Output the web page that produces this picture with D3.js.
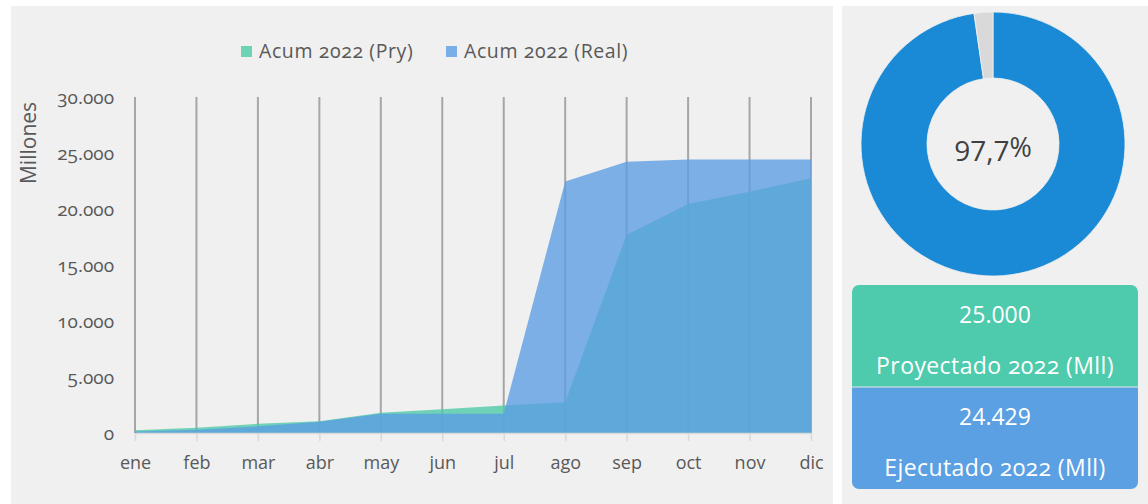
<!DOCTYPE html>
<html lang="es">
<head>
<meta charset="utf-8">
<title>Acum 2022</title>
<script src="https://cdn.jsdelivr.net/npm/d3@7"></script>
<style>
  body { margin: 0; background: #fff; }
  svg { font-family: "Open Sans", Lato, sans-serif; display: block; }
  .onum { font-variant-numeric: oldstyle-nums; }
</style>
</head>
<body>
<svg width="1148" height="504"></svg>
<script>

// data
var months = ["ene", "feb", "mar", "abr", "may", "jun", "jul", "ago", "sep", "oct", "nov", "dic"];
var pry  = [250, 470, 820, 1050, 1800, 2120, 2450, 2750, 17700, 20450, 21550, 22750];
var real = [140, 290, 600, 1000, 1720, 1720, 1720, 22450, 24220, 24420, 24429, 24429];
var yTicks = [0, 5000, 10000, 15000, 20000, 25000, 30000];
var seriesNames = ["Acum 2022 (Pry)", "Acum 2022 (Real)"];

var cumplimiento = 0.977;
var proyectado = 25000;
var ejecutado = 24429;

var svg = d3.select("svg");

var es = d3.formatLocale({ decimal: ",", thousands: ".", grouping: [3], currency: ["$", ""] }),
    fmtInt = es.format(",d"),
    fmtPct = es.format(".1f");

// panels
svg.append("rect").attr("x", 11).attr("y", 6).attr("width", 822).attr("height", 498).attr("fill", "#f0f0f0");
svg.append("rect").attr("x", 842).attr("y", 6).attr("width", 306).attr("height", 498).attr("fill", "#f0f0f0");

// ---- area chart ----
var x = d3.scalePoint().domain(months).range([135, 811]);
var y = d3.scaleLinear().domain([0, 30000]).range([433, 97]);

// vertical gridlines
svg.append("g")
  .selectAll("line")
  .data(months)
  .enter().append("line")
    .attr("x1", function(d) { return x(d); })
    .attr("x2", function(d) { return x(d); })
    .attr("y1", y(30000))
    .attr("y2", y(0))
    .attr("stroke", "#a6a6a6")
    .attr("stroke-width", 2);

var area = function(vals) {
  return d3.area()
    .x(function(d, i) { return x(months[i]); })
    .y0(y(0))
    .y1(function(d) { return y(d); })(vals);
};

svg.append("path").attr("d", area(pry)).attr("fill", "#4fcaa8").attr("fill-opacity", 0.8);
svg.append("path").attr("d", area(real)).attr("fill", "#5b9de3").attr("fill-opacity", 0.79);

// x axis
var xAxis = svg.append("g")
    .attr("transform", "translate(0," + y(0) + ")")
    .call(d3.axisBottom(x).tickSizeInner(8).tickSizeOuter(0).tickPadding(15));
xAxis.select(".domain").attr("stroke", "#d9d9d9").attr("stroke-width", 1.5);
xAxis.selectAll(".tick line").attr("stroke", "#d9d9d9").attr("stroke-width", 1.5);
xAxis.selectAll(".tick text").attr("fill", "#595959").style("font-size", "18px").style("font-family", "Open Sans, sans-serif");

// y axis
var yAxis = svg.append("g")
    .attr("transform", "translate(114,0)")
    .call(d3.axisLeft(y).tickValues(yTicks).tickSize(0).tickPadding(0).tickFormat(fmtInt));
yAxis.select(".domain").remove();
yAxis.selectAll(".tick text").attr("fill", "#595959").attr("class", "onum").style("font-size", "19px").style("font-family", "Open Sans, sans-serif");

svg.append("text")
    .attr("transform", "translate(36,143) rotate(-90)")
    .attr("text-anchor", "middle")
    .attr("fill", "#595959")
    .style("font-size", "21px")
    .text("Millones");

// legend
var legendColors = ["#6dd3b5", "#7aaee6"];
var legendX = [241, 446];
var legend = svg.append("g").selectAll("g")
  .data(seriesNames)
  .enter().append("g")
    .attr("transform", function(d, i) { return "translate(" + legendX[i] + ",46)"; });
legend.append("rect").attr("width", 11).attr("height", 11).attr("fill", function(d, i) { return legendColors[i]; });
legend.append("text")
    .attr("x", 18).attr("y", 12)
    .attr("fill", "#595959")
    .attr("class", "onum")
    .style("font-size", "19.5px")
    .style("letter-spacing", "0.6px")
    .text(function(d) { return d; });

// ---- donut ----
var cx = 993, cy = 144;
var pie = d3.pie().sort(null).value(function(d) { return d; });
var arc = d3.arc().innerRadius(66).outerRadius(132);
var donut = svg.append("g").attr("transform", "translate(" + cx + "," + cy + ")");
donut.selectAll("path")
  .data(pie([cumplimiento, 1 - cumplimiento]))
  .enter().append("path")
    .attr("d", arc)
    .attr("fill", function(d, i) { return i === 0 ? "#1b8ad6" : "#d9d9d9"; })
    .attr("stroke", "#f0f0f0")
    .attr("stroke-width", 0.8);

var pctText = donut.append("text")
    .attr("text-anchor", "middle")
    .attr("y", 17)
    .attr("fill", "#404040")
    .style("font-size", "28px");
pctText.append("tspan").text(fmtPct(cumplimiento * 100));
pctText.append("tspan").attr("dy", -4).style("font-size", "27px").text("%");

// ---- KPI boxes ----
var boxes = [
  { value: proyectado, label: "Proyectado 2022 (Mll)", color: "#4ecbac" },
  { value: ejecutado, label: "Ejecutado 2022 (Mll)", color: "#5ba0e3" }
];
var bx = 852, bw = 286, by = 285, bh = 102, r = 7;

var box = svg.append("g").selectAll("g")
  .data(boxes)
  .enter().append("g")
    .attr("transform", function(d, i) { return "translate(" + bx + "," + (by + i * bh) + ")"; });

box.append("path")
    .attr("d", function(d, i) {
      var p = d3.path();
      if (i === 0) {
        p.moveTo(0, bh); p.lineTo(0, r); p.arcTo(0, 0, r, 0, r);
        p.lineTo(bw - r, 0); p.arcTo(bw, 0, bw, r, r); p.lineTo(bw, bh);
      } else {
        p.moveTo(0, 0); p.lineTo(bw, 0); p.lineTo(bw, bh - r); p.arcTo(bw, bh, bw - r, bh, r);
        p.lineTo(r, bh); p.arcTo(0, bh, 0, bh - r, r);
      }
      p.closePath();
      return p.toString();
    })
    .attr("fill", function(d) { return d.color; });

box.append("text")
    .attr("x", bw / 2).attr("y", 38)
    .attr("text-anchor", "middle")
    .attr("fill", "#fff")
    .style("font-size", "23px")
    .text(function(d) { return fmtInt(d.value); });

box.append("text")
    .attr("x", bw / 2).attr("y", 89)
    .attr("text-anchor", "middle")
    .attr("fill", "#fff")
    .attr("class", "onum")
    .style("font-size", "23px")
    .style("letter-spacing", "0.4px")
    .text(function(d) { return d.label; });

svg.append("line")
    .attr("x1", bx).attr("x2", bx + bw)
    .attr("y1", by + bh).attr("y2", by + bh)
    .attr("stroke", "#e8e8e8").attr("stroke-width", 1);

</script>
</body>
</html>
